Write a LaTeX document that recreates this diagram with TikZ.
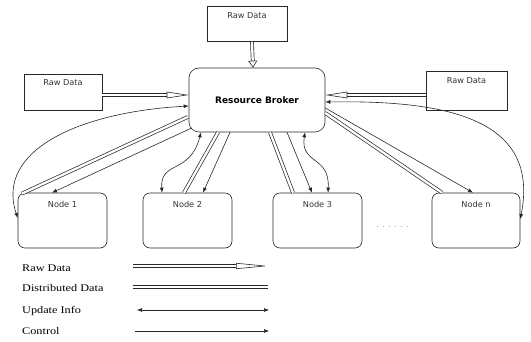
\documentclass[tikz,border=0pt]{standalone}
\usepackage{fontspec}
\setmainfont{DejaVu Sans}
\newfontfamily\legendfont[FakeStretch=1.2]{Liberation Serif}
\usetikzlibrary{arrows.meta,calc}
\definecolor{dotcol}{RGB}{200,120,140}
\definecolor{ink}{RGB}{40,40,40}
\begin{document}
\begin{tikzpicture}[x=1pt,y=-1pt,
  box/.style={draw=ink, line width=0.6pt, inner sep=0pt},
  rbox/.style={box, rounded corners=7pt},
  lbl/.style={font=\fontsize{8.2}{9}\selectfont, text=black!80, inner sep=0pt, anchor=north},
  rawarrow/.style 2 args={draw=ink, double=white, double distance=2.3pt, line width=0.7pt,
     -{Triangle[open, length=#1, width=#2, line width=0.6pt]}},
  distline/.style={draw=ink, double=white, double distance=2.3pt, line width=0.7pt},
  updarrow/.style={draw=ink, line width=0.6pt, {Latex[length=5pt,width=4pt]}-{Latex[length=5pt,width=4pt]}},
  ctrlarrow/.style={draw=ink, line width=0.6pt, -{Latex[length=5pt,width=4pt]}},
  legtext/.style={font=\legendfont\fontsize{10.2}{12}\selectfont, anchor=base west, inner sep=0pt}
]
\useasboundingbox (0,0) rectangle (531,342);

% boxes
\node[box, minimum width=80pt, minimum height=35pt,
  label={[lbl, yshift=-6.6pt]north:Raw Data}] (topraw) at (247,24) {};
\node[box, minimum width=78pt, minimum height=36pt,
  label={[lbl, yshift=-6pt]north:Raw Data}] (leftraw) at (63,92) {};
\node[box, minimum width=81pt, minimum height=39pt,
  label={[lbl, yshift=-6.7pt]north:Raw Data}] (rightraw) at (466.5,90.5) {};
\node[draw=ink, line width=0.6pt, rounded corners=10pt, minimum width=136pt, minimum height=64pt,
  font=\bfseries\fontsize{9}{10}\selectfont] (broker) at (257,100) {Resource Broker};

\node[rbox, minimum width=89pt, minimum height=55pt,
  label={[lbl, yshift=-8.5pt]north:Node 1}] (node1) at (62.5,220.5) {};
\node[rbox, minimum width=89pt, minimum height=55pt,
  label={[lbl, yshift=-8.5pt]north:Node 2}] (node2) at (187.5,220.5) {};
\node[rbox, minimum width=89pt, minimum height=55pt,
  label={[lbl, yshift=-8.5pt]north:Node 3}] (node3) at (317.5,220.5) {};
\node[rbox, minimum width=88pt, minimum height=55pt,
  label={[lbl, yshift=-8.5pt]north:Node n}] (noden) at (476,220.5) {};
\node[text=dotcol, font=\fontsize{8}{9}\selectfont, inner sep=0pt] (dots) at (392.5,227) {. . . . . .};

% raw data arrows (yshift is in canvas direction: positive = up)
\draw[rawarrow={7pt}{9pt}] ([xshift=5pt]topraw.south) -- ([xshift=-4pt]broker.north);
\draw[rawarrow={22pt}{6.5pt}] ([yshift=-3pt]leftraw.east) -- ([yshift=5pt]broker.west);
\draw[rawarrow={22pt}{6.5pt}] ([yshift=-4.5pt]rightraw.west) -- ([yshift=5pt]broker.east);

% node 1
\draw[updarrow] ([yshift=-6pt]broker.west) .. controls (80,112) and (-5,150) .. ([yshift=2.5pt]node1.west);
\draw[distline] ([yshift=-17pt,xshift=-1pt]broker.west) -- ([xshift=4pt,yshift=-1pt]node1.north west);
\draw[ctrlarrow] ([xshift=3pt,yshift=-28pt]broker.west) -- ([xshift=-10.5pt]node1.north);

% node 2
\draw[updarrow] ([xshift=-56pt]broker.south) .. controls (190,175) and (160,160) .. ([xshift=-25.5pt]node2.north);
\draw[distline] ([xshift=-39pt]broker.south) -- ([xshift=-3.5pt]node2.north);
\draw[ctrlarrow] ([xshift=-27pt]broker.south) -- ([xshift=15.5pt]node2.north);

% node 3
\draw[distline] ([xshift=13pt]broker.south) -- ([xshift=-24.5pt]node3.north);
\draw[ctrlarrow] ([xshift=30pt]broker.south) -- ([xshift=-5.5pt]node3.north);
\draw[updarrow] ([xshift=48pt]broker.south) .. controls (300,165) and (330,155) .. ([xshift=10.5pt]node3.north);

% node n
\draw[ctrlarrow] ([yshift=-8pt]broker.east) -- ([xshift=-3pt]noden.north);
\draw[distline] ([yshift=-13pt]broker.east) -- ([xshift=-34pt]noden.north);
\draw[updarrow] ([yshift=-2pt]broker.east) .. controls (450,100) and (540,120) .. ([yshift=1.5pt]noden.east);

% legend
\node[legtext] (lraw) at (22,271.7) {Raw Data};
\node[legtext] (ldist) at (22,291.7) {Distributed Data};
\node[legtext] (lupd) at (22,313.3) {Update Info};
\node[legtext] (lctrl) at (22,334.3) {Control};
\coordinate (ra) at (133,266); \coordinate (rb) at (268,266);
\coordinate (da) at (133,287); \coordinate (db) at (268,287);
\coordinate (ua) at (137,310); \coordinate (ub) at (269,310);
\coordinate (ca) at (135,331); \coordinate (cb) at (269,331);
\draw[rawarrow={32pt}{6pt}] (ra) -- (rb);
\draw[distline] (da) -- (db);
\draw[updarrow] (ua) -- (ub);
\draw[ctrlarrow] (ca) -- (cb);
\end{tikzpicture}
\end{document}
